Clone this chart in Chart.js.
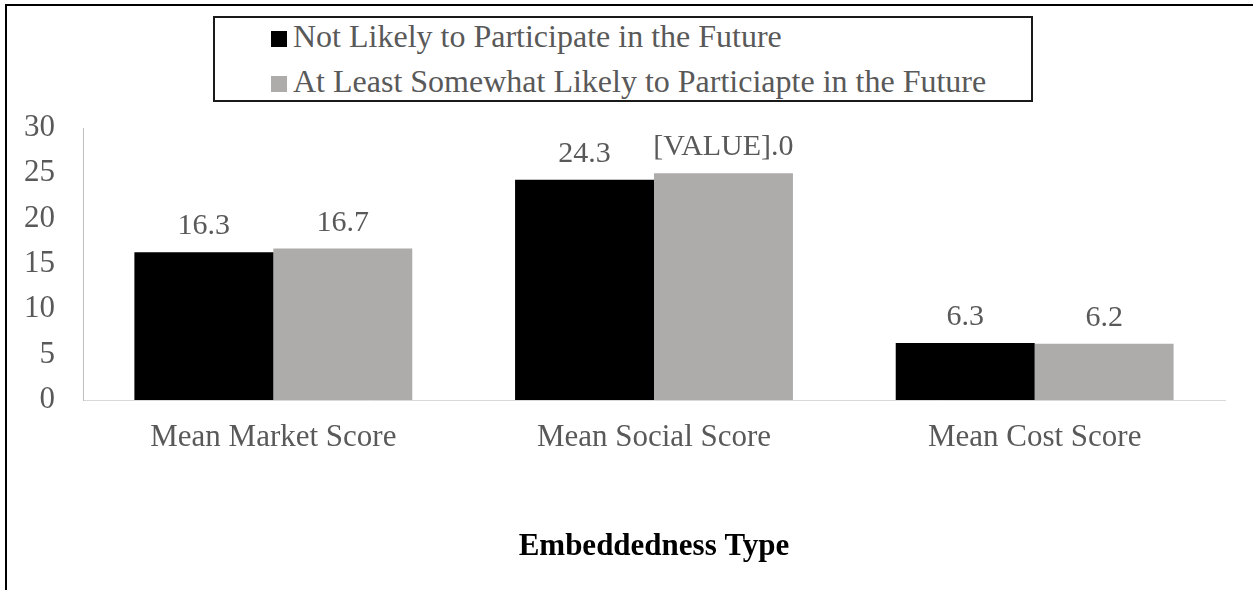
<!DOCTYPE html>
<html>
<head>
<meta charset="utf-8">
<script src="https://cdn.jsdelivr.net/npm/chart.js@4"></script>
<style>
  html, body { margin: 0; padding: 0; background: #fff; }
  #wrap { position: relative; width: 1253px; height: 590px; overflow: hidden; }
  #frame { position: absolute; left: 5px; top: 4px; width: 1300px; height: 700px; border-left: 2px solid #000; border-top: 2px solid #000; }
  #chart-box { position: absolute; left: 0; top: 0; width: 1253px; height: 590px; }
  #legend { position: absolute; left: 213px; top: 16px; width: 820px; height: 86px; box-sizing: border-box; border: 2px solid #1a1a1a; background: #fff; }
  .legend-item { position: absolute; left: 56px; font: 32px "Liberation Serif", "Times New Roman", serif; color: #595959; white-space: nowrap; line-height: 34px; }
  .swatch { display: inline-block; width: 16px; height: 16px; margin-right: 6px; vertical-align: baseline; }
</style>
</head>
<body>
<div id="wrap">
  <div id="frame"></div>
  <div id="chart-box"><canvas id="embedChart"></canvas></div>
  <div id="legend"></div>
</div>
<script>
// data
const categories = ['Mean Market Score', 'Mean Social Score', 'Mean Cost Score'];
const seriesNames = ['Not Likely to Participate in the Future', 'At Least Somewhat Likely to Particiapte in the Future'];
const notLikely = [16.3, 24.3, 6.3];
const somewhatLikely = [16.7, 25.0, 6.2];
const notLikelyLabels = ['16.3', '24.3', '6.3'];
const somewhatLikelyLabels = ['16.7', '[VALUE].0', '6.2'];
const yTicks = [0, 5, 10, 15, 20, 25, 30];
const seriesColors = ['#000000', '#aeabab'];

const serif = '"Liberation Serif", "Times New Roman", serif';
const textGray = '#595959';

// labels above the bars
const barValueLabels = {
    id: 'barValueLabels',
    afterDatasetsDraw(chart) {
        const ctx = chart.ctx;
        ctx.save();
        ctx.font = '30px ' + serif;
        ctx.fillStyle = textGray;
        ctx.textAlign = 'center';
        ctx.textBaseline = 'alphabetic';
        chart.data.datasets.forEach((ds, i) => {
            chart.getDatasetMeta(i).data.forEach((bar, j) => {
                ctx.fillText(ds.valueLabels[j], bar.x, bar.y - 18);
            });
        });
        ctx.restore();
    }
};

const ctx = document.getElementById('embedChart').getContext('2d');
const chart = new Chart(ctx, {
    type: 'bar',
    data: {
        labels: categories,
        datasets: [
            { label: seriesNames[0], data: notLikely, valueLabels: notLikelyLabels, backgroundColor: seriesColors[0] },
            { label: seriesNames[1], data: somewhatLikely, valueLabels: somewhatLikelyLabels, backgroundColor: seriesColors[1] }
        ]
    },
    options: {
        responsive: true,
        maintainAspectRatio: false,
        animation: false,
        datasets: { bar: { categoryPercentage: 0.73, barPercentage: 1.0 } },
        layout: { padding: { left: 0, right: 28, top: 128, bottom: 0 } },
        scales: {
            x: {
                grid: { display: false, drawTicks: false },
                border: { display: true, color: '#d9d9d9', width: 1 },
                ticks: { color: textGray, font: { family: serif, size: 31 }, padding: 19, maxRotation: 0 },
                title: { display: true, text: 'Embeddedness Type', color: '#000', font: { family: serif, size: 31, weight: 'bold' }, padding: { top: 0, bottom: 24 } },
                afterFit: (scale) => { scale.height = 190; }
            },
            y: {
                min: 0,
                max: 30,
                grid: { display: false, drawTicks: false },
                border: { display: true, color: '#bfbfbf', width: 1 },
                ticks: { color: textGray, font: { family: serif, size: 31 }, padding: 28 },
                afterBuildTicks: (scale) => { scale.ticks = yTicks.map(v => ({ value: v })); },
                afterFit: (scale) => { scale.width = 83; }
            }
        },
        plugins: {
            legend: { display: false },
            tooltip: { enabled: false }
        }
    },
    plugins: [barValueLabels]
});

// boxed legend, two rows, built from the datasets
const legendEl = document.getElementById('legend');
const rowTops = [1, 46];
chart.data.datasets.forEach((ds, i) => {
    const item = document.createElement('div');
    item.className = 'legend-item';
    item.style.top = rowTops[i] + 'px';
    const sw = document.createElement('span');
    sw.className = 'swatch';
    sw.style.background = ds.backgroundColor;
    item.appendChild(sw);
    item.appendChild(document.createTextNode(ds.label));
    legendEl.appendChild(item);
});
</script>
</body>
</html>
